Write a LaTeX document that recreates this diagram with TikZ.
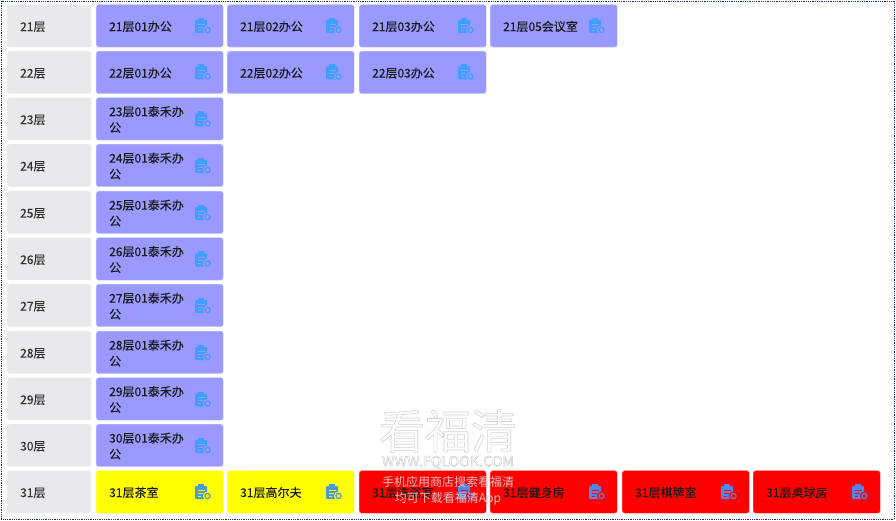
\documentclass[tikz,border=0pt]{standalone}
\usepackage{fontspec}
\setmainfont[FakeBold=0.1]{Noto Sans CJK SC}
\newfontfamily\markfont{Noto Sans CJK SC}
\definecolor{floorgray}{HTML}{E9E9EB}
\definecolor{roompurple}{HTML}{9999FF}
\definecolor{roomyellow}{HTML}{FFFF00}
\definecolor{roomred}{HTML}{FF0000}
\definecolor{iconblue}{HTML}{409EFF}
\definecolor{iconred}{HTML}{5584EC}
\definecolor{iconyellow}{HTML}{4A9AD8}
\definecolor{framenavy}{HTML}{1A2A6C}
\definecolor{txtdark}{HTML}{303133}
\tikzset{
    cell/.style={anchor=north west, rounded corners=2.5pt, inner sep=0pt, minimum height=42.5pt, align=left, font=\fontsize{12}{16}\selectfont, execute at begin node={\rule{0pt}{11.2pt}}},
    floorcell/.style={cell, fill=floorgray, text=txtdark, text width=84pt},
    roomcell/.style={cell, draw=white!50!#1, line width=0.4pt, fill=#1, text=black!90, text width=127pt},
}
% one clipboard icon: left/top corner, icon colour, colour behind it
\newcommand{\clipicon}[4]{
    \fill[#3, rounded corners=1pt] (#1,#2+2) rectangle ++(12,13);
    \fill[#3] (#1+3,#2) rectangle ++(6,3.5);
    \draw[#4, line width=0.9pt] (#1+2.5,#2+6) -- ++(7,0) (#1+2.5,#2+9) -- ++(5,0) (#1+2.5,#2+12) -- ++(3.5,0);
    \fill[#4] (#1+12.5,#2+12) circle (4.6);
    \draw[#3, line width=1.2pt] (#1+12.5,#2+12) circle (2.6);
}
\begin{document}
\begin{tikzpicture}[x=1pt, y=-1pt]
    \useasboundingbox (0,0) rectangle (896,521);

    % Frame
    \draw[framenavy, densely dotted, line width=0.8pt] (1,1) rectangle (894,519);

    % Floor labels
    \foreach \f/\y in {21/4.5,22/51,23/97.5,24/144,25/191,26/237.5,27/284,28/331,29/377.5,30/424,31/470.5} {
        \node[floorcell] (floor\f) at (7,\y) {\hspace*{13pt}\f 层};
    }

    % Floors 21 and 22
    \foreach \x/\n/\t in {96/1/21层01办公,227/2/21层02办公,359/3/21层03办公,490/4/21层05会议室} {
        \node[roomcell=roompurple] (room21\n) at (\x,4.5) {\hspace*{13pt}\t};
        \clipicon{\x+99}{18}{iconblue}{roompurple}
    }
    \foreach \x/\n/\t in {96/1/22层01办公,227/2/22层02办公,359/3/22层03办公} {
        \node[roomcell=roompurple] (room22\n) at (\x,51) {\hspace*{13pt}\t};
        \clipicon{\x+99}{64.5}{iconblue}{roompurple}
    }

    % Floors 23 to 30, label wraps
    \foreach \f/\y in {23/97.5,24/144,25/191,26/237.5,27/284,28/331,29/377.5,30/424} {
        \node[roomcell=roompurple] (room\f) at (96,\y) {\hspace*{13pt}\f 层01泰禾办\\\hspace*{13pt}公};
        \clipicon{195}{\y+14}{iconblue}{roompurple}
    }

    % Floor 31
    \foreach \x/\n/\t/\c/\i in {96/1/31层茶室/roomyellow/iconyellow,227/2/31层高尔夫/roomyellow/iconyellow,359/3/31层洗浴室/roomred/iconred,490/4/31层健身房/roomred/iconred,622/5/31层棋牌室/roomred/iconred,753/6/31层桌球房/roomred/iconred} {
        \node[roomcell=\c] (room31\n) at (\x,470.5) {\hspace*{13pt}\t};
        \clipicon{\x+99}{484}{\i}{\c}
    }

    % Watermark
    \node[font=\markfont\fontsize{46}{46}\selectfont, text=white] (markname) at (448,431) {\special{pdf:code 1 Tr 0.6 w 0.82 0.82 0.82 RG}看福清\special{pdf:code 0 Tr}};
    \node[font=\markfont\fontsize{14.3}{14.3}\selectfont, text=white] (markurl) at (448,462.5) {\special{pdf:code 1 Tr 0.4 w 0.78 0.78 0.78 RG}WWW.FQLOOK.COM\special{pdf:code 0 Tr}};
    \node[font=\markfont\fontsize{12}{16}\selectfont, text=white!70!gray, align=center, text opacity=0.9] (markline) at (448,490.5) {手机应用商店搜索看福清\\均可下载看福清App};
\end{tikzpicture}
\end{document}
